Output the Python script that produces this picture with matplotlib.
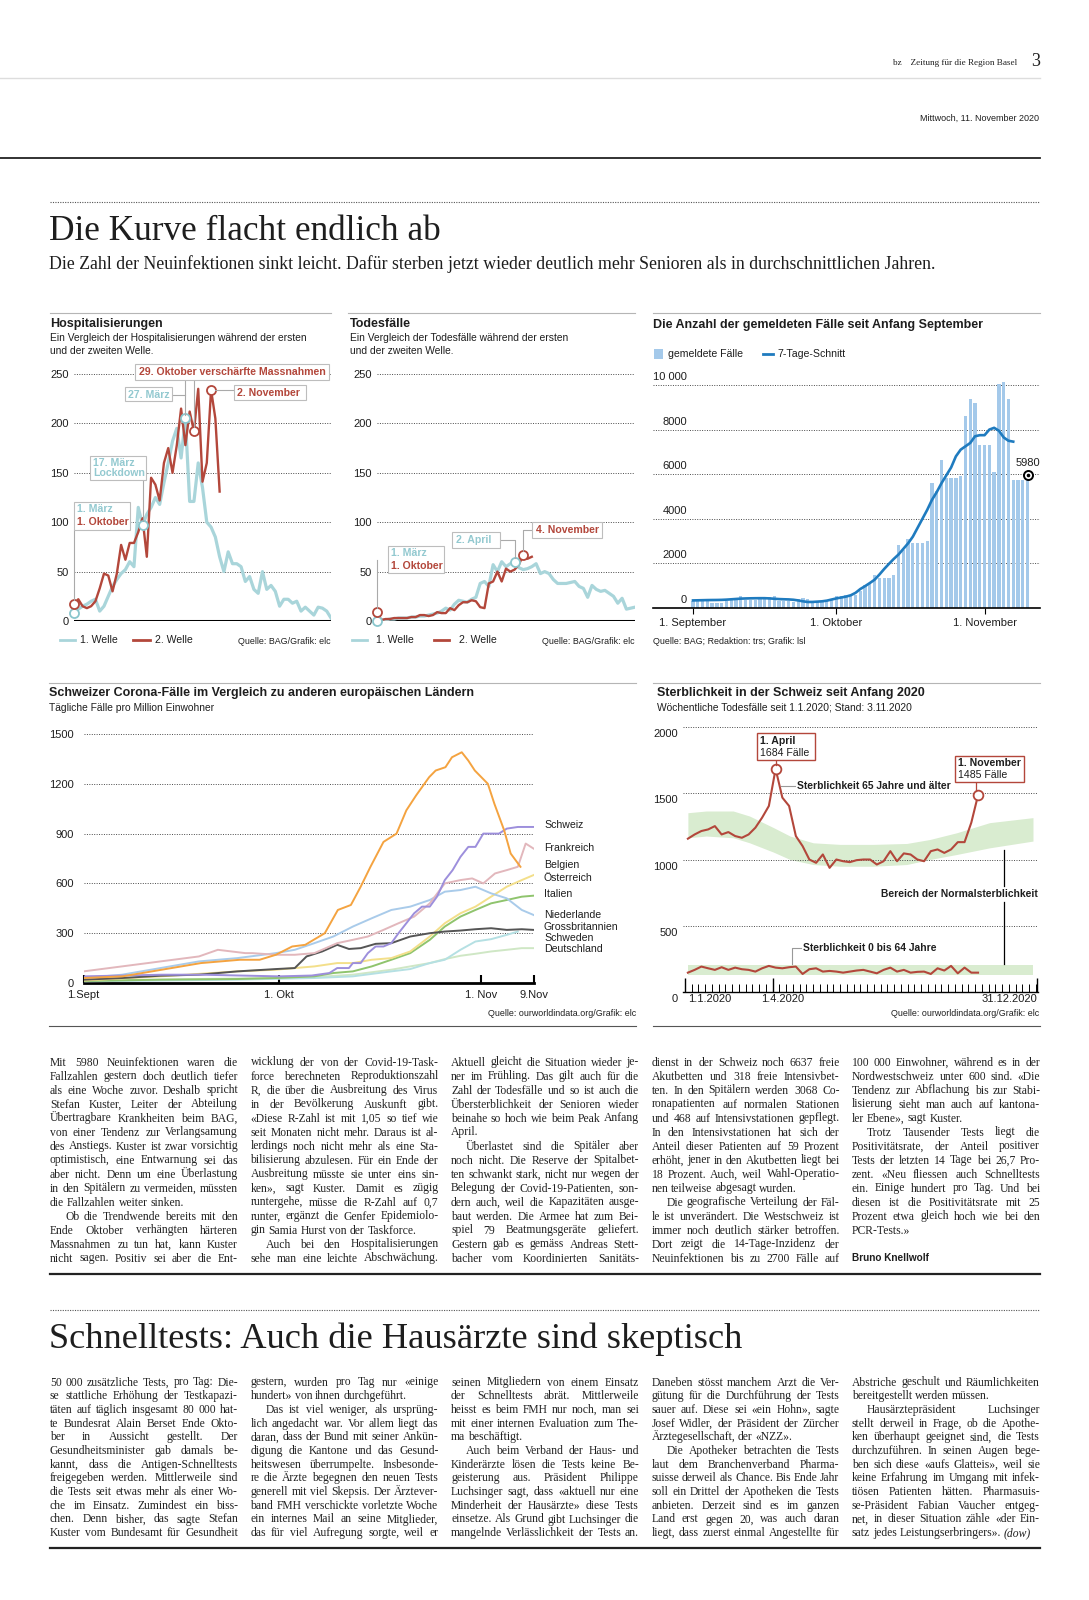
import matplotlib
matplotlib.use("Agg")
import matplotlib.pyplot as plt
from matplotlib.lines import Line2D
from matplotlib.patches import Rectangle
from matplotlib.font_manager import FontProperties

# ---------------------------------------------------------------- data
HOSP_TICKS = [0, 50, 100, 150, 200, 250]
HOSP_W1 = [8, 12, 15, 17, 20, 22, 10, 15, 25, 35, 42, 48, 52, 60, 55, 115, 97, 108, 115, 125,
           118, 140, 160, 182, 195, 165, 205, 121, 121, 160, 135, 100, 95, 85, 65, 50, 70, 58, 58, 55,
           40, 45, 32, 28, 50, 32, 36, 30, 15, 22, 22, 18, 20, 10, 14, 10, 6, 14, 13, 10, 3]
HOSP_W2 = [17, 22, 15, 13, 15, 20, 33, 48, 46, 30, 48, 77, 62, 79, 79, 90, 104, 65, 145, 138,
           122, 160, 175, 150, 178, 215, 178, 212, 192, 235, 141, 160, 234, 205, 131]
HOSP_MARK_W1 = [0, 16, 26]        # 1. März, 17. März, 27. März
HOSP_MARK_W2 = [0, 28, 32]        # 1. Oktober, 29. Oktober, 2. November

DEATH_W1 = [0, 1, 1, 2, 2, 3, 3, 3, 4, 4, 5, 5, 6, 7, 8, 10, 13, 11, 17, 21,
            20, 19, 22, 24, 38, 40, 35, 57, 50, 60, 55, 58, 60, 54, 52, 53, 55, 58, 48, 50,
            48, 42, 38, 38, 38, 39, 40, 35, 33, 24, 36, 32, 30, 31, 28, 25, 18, 23, 12, 13, 14]
DEATH_W2 = [9, 1, 2, 2, 3, 3, 3, 3, 4, 4, 6, 6, 5, 6, 9, 8, 8, 13, 11, 16,
            19, 19, 21, 20, 14, 13, 38, 40, 50, 40, 53, 50, 52, 57, 67, 63, 65]
DEATH_MARK_W1 = [0, 32]           # 1. März, 2. April
DEATH_MARK_W2 = [0, 34]           # 1. Oktober, 4. November

# reported cases, day 0 = 1 September
CASES = [330, 380, 405, 420, 230, 230, 230, 300, 400, 460, 530, 380, 380, 380, 390, 500, 480, 520, 330, 330,
         330, 290, 390, 440, 420, 280, 280, 280, 330, 420, 520, 560, 600, 600, 600, 750, 1050, 1120, 1490, 1340,
         1340, 1340, 1460, 2840, 2610, 3100, 2900, 2900, 2900, 3000, 5600, 5250, 6640, 5820, 5820, 5820, 5940,
         8610, 9360, 9180, 7310, 7310, 7310, 6120, 10040, 10120, 9370, 5750, 5750, 5750, 5980]
AVG7 = [340, 345, 350, 355, 358, 360, 365, 375, 390, 405, 420, 428, 434, 438, 440, 440, 430, 415, 400, 392,
        385, 370, 340, 300, 270, 272, 285, 300, 330, 380, 430, 470, 510, 570, 680, 850, 980, 1120, 1270, 1500,
        1750, 1980, 2200, 2400, 2650, 2900, 3200, 3600, 4000, 4400, 4850, 5200, 5600, 5950, 6300, 6800, 7100,
        7250, 7400, 7700, 7750, 7750, 8000, 8080, 7950, 7650, 7500, 7460]
CASE_TICKS = [0, 2000, 4000, 6000, 8000, 10000]
CASE_TICK_LABELS = ["0", "2000", "4000", "6000", "8000", "10 000"]
CASE_XTICKS = [0, 30, 61]
CASE_XLABELS = ["1. September", "1. Oktober", "1. November"]

# cases per million, day 0 = 1 September
BE_D = [0, 6, 12, 18, 24, 27, 29.5, 32, 34, 37, 39, 41, 42.5, 44, 46, 48, 49.5, 51, 53, 54, 55.5, 56.5, 58, 59,
        60, 62, 63, 64.5, 65.5, 67]
BE_V = [30, 40, 80, 120, 140, 140, 170, 220, 230, 300, 440, 470, 580, 700, 850, 900, 1040, 1130, 1240, 1280,
        1300, 1360, 1390, 1340, 1280, 1200, 1080, 920, 780, 700]
CH_D = [0, 6, 12, 18, 24, 30, 35, 37.7, 38.9, 40.7, 41.3, 42.5, 43.6, 44.8, 46, 47.2, 48.3, 49.5, 50.7, 51.9,
        53.1, 54.2, 55.4, 56.6, 57.8, 59, 60.1, 61.3, 62.5, 63.7, 64.9, 66.6, 69]
CH_V = [40, 45, 50, 50, 45, 40, 45, 60, 90, 90, 120, 120, 180, 220, 220, 240, 300, 360, 420, 460,
        460, 520, 620, 680, 760, 820, 820, 900, 900, 900, 930, 940, 940]
FR_D = [0, 5.9, 11.8, 17.7, 20.6, 24.8, 25.9, 29.5, 32.4, 35.4, 38.9, 41.3, 43.6, 46, 48.3, 50.7, 53.1, 55.4,
        57.8, 59.6, 61.3, 63.1, 64.9, 66.6, 67.8, 69]
FR_V = [70, 100, 130, 160, 200, 180, 180, 170, 170, 180, 240, 260, 280, 320, 360, 400, 480, 600,
        620, 630, 600, 660, 680, 700, 840, 810]
AT_D = [0, 11.8, 23.6, 29.5, 32.4, 35.4, 38.9, 41.3, 44.2, 47.2, 50.1, 53.1, 55.4, 57.8, 60.1, 62.5, 64.9, 67.2, 69]
AT_V = [15, 40, 70, 80, 90, 100, 120, 120, 140, 150, 190, 280, 360, 420, 460, 520, 580, 620, 650]
IT_D = [0, 11.8, 23.6, 29.5, 35.4, 38.3, 41.3, 44.2, 47.2, 50.1, 53.1, 55.4, 57.8, 60.1, 62.5, 64.9, 67.2, 69]
IT_V = [12, 20, 24, 30, 40, 60, 70, 100, 140, 180, 260, 340, 400, 440, 480, 500, 520, 526]
NL_D = [0, 5.9, 11.8, 17.7, 23.6, 29.5, 32.4, 35.4, 38.3, 41.3, 44.2, 47.2, 50.1, 53.1, 55.4, 57.8, 60.1, 62.5,
        64.9, 67.2, 69]
NL_V = [30, 50, 90, 130, 150, 180, 200, 240, 280, 340, 390, 440, 460, 500, 550, 560, 580, 540, 510, 440, 410]
GB_D = [0, 5.9, 11.8, 17.7, 23.6, 29.5, 32.4, 34.2, 36.6, 38.9, 40.7, 42.5, 44.8, 47.2, 50.1, 53.1, 55.4, 57.8,
        60.1, 62.5, 64.9, 67.2, 69]
GB_V = [20, 30, 44, 50, 70, 84, 90, 160, 190, 230, 205, 210, 236, 240, 280, 300, 310, 316, 324, 330, 320, 324, 320]
SE_D = [0, 23.6, 35.4, 41.3, 47.2, 50.1, 53.1, 55.4, 57.8, 60.1, 62.5, 64.9, 66.6]
SE_V = [10, 20, 30, 40, 70, 84, 120, 140, 200, 250, 264, 290, 310]
DE_D = [0, 17.7, 29.5, 35.4, 41.3, 47.2, 50.1, 53.1, 55.4, 57.8, 60.1, 62.5, 64.9, 67.2, 69]
DE_V = [14, 24, 30, 36, 50, 80, 100, 120, 144, 164, 176, 190, 200, 210, 210]
EU_TICKS = [0, 300, 600, 900, 1200, 1500]
EU_XTICKS = [0, 30, 61, 69]
EU_XLABELS = ["1.Sept", "1. Okt", "1. Nov", "9.Nov"]

# weekly deaths 2020
MORT_WEEKS = list(range(1, 45))
MORT65 = [1157, 1189, 1215, 1227, 1252, 1189, 1207, 1177, 1164, 1189, 1240, 1316, 1404, 1684, 1467, 1404,
          1177, 1101, 1000, 975, 1038, 937, 1000, 987, 980, 995, 1000, 1000, 962, 987, 1063, 987, 1046,
          1038, 1000, 987, 1063, 1076, 1050, 1076, 1131, 1131, 1278, 1485]
MORT064 = [146, 167, 192, 179, 167, 187, 167, 184, 172, 167, 154, 179, 197, 184, 179, 187, 192, 136, 172, 179,
           154, 159, 154, 146, 154, 162, 167, 154, 141, 167, 184, 154, 167, 146, 152, 154, 136, 179, 162, 197,
           141, 184, 146, 146]
BAND_DAYS = [3, 22, 50, 67, 92, 109, 133, 161, 195, 230, 254, 282, 316, 361]
BAND65_HI = [1353, 1366, 1366, 1328, 1240, 1177, 1126, 1114, 1114, 1121, 1151, 1202, 1278, 1316]
BAND65_LO = [1164, 1177, 1164, 1126, 1055, 1000, 962, 949, 949, 962, 1000, 1038, 1088, 1139]
BAND064_DAYS = [3, 361]
BAND064_HI = [205, 205]
BAND064_LO = [128, 128]
MORT_TICKS = [500, 1000, 1500, 2000]

# ---------------------------------------------------------------- text
ART1 = [
    ["Mit 5980 Neuinfektionen waren die",
     "Fallzahlen gestern doch deutlich tiefer",
     "als eine Woche zuvor. Deshalb spricht",
     "Stefan Kuster, Leiter der Abteilung",
     "Übertragbare Krankheiten beim BAG,",
     "von einer Tendenz zur Verlangsamung",
     "des Anstiegs. Kuster ist zwar vorsichtig",
     "optimistisch, eine Entwarnung sei das",
     "aber nicht. Denn um eine Überlastung",
     "in den Spitälern zu vermeiden, müssten",
     "die Fallzahlen weiter sinken."],
    ["Ob die Trendwende bereits mit den",
     "Ende Oktober verhängten härteren",
     "Massnahmen zu tun hat, kann Kuster",
     "nicht sagen. Positiv sei aber die Ent-",
     "wicklung der von der Covid-19-Task-",
     "force berechneten Reproduktionszahl",
     "R, die über die Ausbreitung des Virus",
     "in der Bevölkerung Auskunft gibt.",
     "«Diese R-Zahl ist mit 1,05 so tief wie",
     "seit Monaten nicht mehr. Daraus ist al-",
     "lerdings noch nicht mehr als eine Sta-",
     "bilisierung abzulesen. Für ein Ende der",
     "Ausbreitung müsste sie unter eins sin-",
     "ken», sagt Kuster. Damit es zügig",
     "runtergehe, müsse die R-Zahl auf 0,7",
     "runter, ergänzt die Genfer Epidemiolo-",
     "gin Samia Hurst von der Taskforce."],
    ["Auch bei den Hospitalisierungen",
     "sehe man eine leichte Abschwächung.",
     "Aktuell gleicht die Situation wieder je-",
     "ner im Frühling. Das gilt auch für die",
     "Zahl der Todesfälle und so ist auch die",
     "Übersterblichkeit der Senioren wieder",
     "beinahe so hoch wie beim Peak Anfang",
     "April."],
    ["Überlastet sind die Spitäler aber",
     "noch nicht. Die Reserve der Spitalbet-",
     "ten schwankt stark, nicht nur wegen der",
     "Belegung der Covid-19-Patienten, son-",
     "dern auch, weil die Kapazitäten ausge-",
     "baut werden. Die Armee hat zum Bei-",
     "spiel 79 Beatmungsgeräte geliefert.",
     "Gestern gab es gemäss Andreas Stett-",
     "bacher vom Koordinierten Sanitäts-",
     "dienst in der Schweiz noch 6637 freie",
     "Akutbetten und 318 freie Intensivbet-",
     "ten. In den Spitälern werden 3068 Co-",
     "ronapatienten auf normalen Stationen",
     "und 468 auf Intensivstationen gepflegt.",
     "In den Intensivstationen hat sich der",
     "Anteil dieser Patienten auf 59 Prozent",
     "erhöht, jener in den Akutbetten liegt bei",
     "18 Prozent. Auch, weil Wahl-Operatio-",
     "nen teilweise abgesagt wurden."],
    ["Die geografische Verteilung der Fäl-",
     "le ist unverändert. Die Westschweiz ist",
     "immer noch deutlich stärker betroffen.",
     "Dort zeigt die 14-Tage-Inzidenz der",
     "Neuinfektionen bis zu 2700 Fälle auf",
     "100 000 Einwohner, während es in der",
     "Nordwestschweiz unter 600 sind. «Die",
     "Tendenz zur Abflachung bis zur Stabi-",
     "lisierung sieht man auch auf kantona-",
     "ler Ebene», sagt Kuster."],
    ["Trotz Tausender Tests liegt die",
     "Positivitätsrate, der Anteil positiver",
     "Tests der letzten 14 Tage bei 26,7 Pro-",
     "zent. «Neu fliessen auch Schnelltests",
     "ein. Einige hundert pro Tag. Und bei",
     "diesen ist die Positivitätsrate mit 25",
     "Prozent etwa gleich hoch wie bei den",
     "PCR-Tests.»"],
]
ART2 = [
    ["50 000 zusätzliche Tests, pro Tag: Die-",
     "se stattliche Erhöhung der Testkapazi-",
     "täten auf täglich insgesamt 80 000 hat-",
     "te Bundesrat Alain Berset Ende Okto-",
     "ber in Aussicht gestellt. Der",
     "Gesundheitsminister gab damals be-",
     "kannt, dass die Antigen-Schnelltests",
     "freigegeben werden. Mittlerweile sind",
     "die Tests seit etwas mehr als einer Wo-",
     "che im Einsatz. Zumindest ein biss-",
     "chen. Denn bisher, das sagte Stefan",
     "Kuster vom Bundesamt für Gesundheit",
     "gestern, wurden pro Tag nur «einige",
     "hundert» von ihnen durchgeführt."],
    ["Das ist viel weniger, als ursprüng-",
     "lich angedacht war. Vor allem liegt das",
     "daran, dass der Bund mit seiner Ankün-",
     "digung die Kantone und das Gesund-",
     "heitswesen überrumpelte. Insbesonde-",
     "re die Ärzte begegnen den neuen Tests",
     "generell mit viel Skepsis. Der Ärztever-",
     "band FMH verschickte vorletzte Woche",
     "ein internes Mail an seine Mitglieder,",
     "das für viel Aufregung sorgte, weil er",
     "seinen Mitgliedern von einem Einsatz",
     "der Schnelltests abrät. Mittlerweile",
     "heisst es beim FMH nur noch, man sei",
     "mit einer internen Evaluation zum The-",
     "ma beschäftigt."],
    ["Auch beim Verband der Haus- und",
     "Kinderärzte lösen die Tests keine Be-",
     "geisterung aus. Präsident Philippe",
     "Luchsinger sagt, dass «aktuell nur eine",
     "Minderheit der Hausärzte» diese Tests",
     "einsetze. Als Grund gibt Luchsinger die",
     "mangelnde Verlässlichkeit der Tests an.",
     "Daneben stösst manchem Arzt die Ver-",
     "gütung für die Durchführung der Tests",
     "sauer auf. Diese sei «ein Hohn», sagte",
     "Josef Widler, der Präsident der Zürcher",
     "Ärztegesellschaft, der «NZZ»."],
    ["Die Apotheker betrachten die Tests",
     "laut dem Branchenverband Pharma-",
     "suisse derweil als Chance. Bis Ende Jahr",
     "soll ein Drittel der Apotheken die Tests",
     "anbieten. Derzeit sind es im ganzen",
     "Land erst gegen 20, was auch daran",
     "liegt, dass zuerst einmal Angestellte für",
     "Abstriche geschult und Räumlichkeiten",
     "bereitgestellt werden müssen."],
    ["Hausärztepräsident Luchsinger",
     "stellt derweil in Frage, ob die Apothe-",
     "ken überhaupt geeignet sind, die Tests",
     "durchzuführen. In seinen Augen bege-",
     "ben sich diese «aufs Glatteis», weil sie",
     "keine Erfahrung im Umgang mit infek-",
     "tiösen Patienten hätten. Pharmasuis-",
     "se-Präsident Fabian Vaucher entgeg-",
     "net, in dieser Situation zähle «der Ein-",
     "satz jedes Leistungserbringers». (dow)"],
]

# ---------------------------------------------------------------- setup
SANS = ['Liberation Sans', 'DejaVu Sans']
SERIF = ['Liberation Serif', 'DejaVu Serif']
plt.rcParams['font.family'] = SANS

W, H = 1089, 1600
fig = plt.figure(figsize=(W / 100, H / 100), dpi=100)
fig.patch.set_facecolor('white')
renderer = fig.canvas.get_renderer()

RED = '#b3473b'
TEAL = '#a9d5da'
TEAL_M = '#8ac6cd'
TEAL_TXT = '#93c9d0'
GRID = '#4a4a4a'
DOT = (0, (1, 1.5))
INK = '#1e1e1e'
TITLE_FS = 9.0
SUB_FS = 7.4
TICK_FS = 8.0
ANN_FS = 7.6


def fx(x):
    return x / W


def fy(y):
    return 1 - y / H


def T(x, y, s, size=7, weight='normal', color=INK, ha='left', va='center', family=SANS, z=8, **kw):
    return fig.text(fx(x), fy(y), s, fontsize=size, fontweight=weight, color=color, ha=ha, va=va,
                    family=family, zorder=z, **kw)


def L(xs, ys, color='#aaaaaa', lw=0.8, ls='-', z=6):
    fig.add_artist(Line2D([fx(v) for v in xs], [fy(v) for v in ys], color=color, lw=lw, ls=ls,
                          transform=fig.transFigure, zorder=z))


def BOX(x0, y0, x1, y1, ec='#bdbdbd', lw=0.8):
    fig.add_artist(Rectangle((fx(x0), fy(y1)), (x1 - x0) / W, (y1 - y0) / H, transform=fig.transFigure,
                             fc='white', ec=ec, lw=lw, zorder=7))


def AX(x0, y0, x1, y1):
    ax = fig.add_axes([fx(x0), fy(y1), (x1 - x0) / W, (y1 - y0) / H])
    ax.patch.set_alpha(0)
    for s in ax.spines.values():
        s.set_visible(False)
    return ax


def text_w(s, fp):
    w, h, d = renderer.get_text_width_height_descent(s, fp, ismath=False)
    return w


def fit_text(x, y, s, width, family, size0=20, **kw):
    fp = FontProperties(family=family, size=size0)
    w = text_w(s, fp)
    return T(x, y, s, size=size0 * width / w, family=family, **kw)


# ---------------------------------------------------------------- page header
T(1017, 63, 'bz    Zeitung für die Region Basel', size=6.6, family=SERIF, ha='right')
T(1040, 61, '3', size=13, family=SERIF, ha='right')
L([0, 1040], [78, 78], color='#dddddd', lw=1.0)
T(1039, 118, 'Mittwoch, 11. November 2020', size=6.5, ha='right')
L([0, 1040], [158, 158], color='#222222', lw=1.3)
L([50, 1040], [202, 202], color='#555555', lw=0.8, ls=(0, (1, 1.2)))
fit_text(49, 240, 'Die Kurve flacht endlich ab', 392, SERIF, va='baseline')
fit_text(49, 269, 'Die Zahl der Neuinfektionen sinkt leicht. Dafür sterben jetzt wieder deutlich mehr '
         'Senioren als in durchschnittlichen Jahren.', 882, SERIF, va='baseline')

# section rules
for xa, xb in [(50, 331), (348, 635), (653, 1040)]:
    L([xa, xb], [313, 313], color='#b5b5b5', lw=0.8)
for xa, xb in [(49, 636), (653, 1040)]:
    L([xa, xb], [683, 683], color='#b5b5b5', lw=0.8)
    L([xa, xb], [1026, 1026], color='#555555', lw=0.8)


def wave_axes(x0, x1, w1, w2, m1, m2):
    ax = AX(x0, 374, x1, 621)
    ax.set_xlim(0, 60)
    ax.set_ylim(0, 250)
    ax.set_yticks(HOSP_TICKS)
    ax.set_yticklabels([str(v) for v in HOSP_TICKS])
    ax.set_xticks([])
    ax.tick_params(axis='y', length=0, pad=4, labelsize=TICK_FS, labelcolor=INK)
    ax.grid(axis='y', color=GRID, lw=0.7, ls=DOT)
    ax.axhline(0, color='black', lw=2.2, zorder=2)
    ax.plot(range(len(w1)), w1, color=TEAL, lw=2.3, zorder=3, solid_joinstyle='round')
    ax.plot(range(len(w2)), w2, color=RED, lw=1.7, zorder=4, solid_joinstyle='round')
    ax.plot(m1, [w1[i] for i in m1], 'o', ms=6.5, mfc='white', mec=TEAL_M, mew=1.3, zorder=5, clip_on=False)
    ax.plot(m2, [w2[i] for i in m2], 'o', ms=6.5, mfc='white', mec=RED, mew=1.3, zorder=5, clip_on=False)
    return ax


# ---------------------------------------------------------------- Hospitalisierungen
T(50, 324, 'Hospitalisierungen', size=TITLE_FS, weight='bold')
T(50, 338, 'Ein Vergleich der Hospitalisierungen während der ersten', size=SUB_FS)
T(50, 351, 'und der zweiten Welle.', size=SUB_FS)
wave_axes(74, 331, HOSP_W1, HOSP_W2, HOSP_MARK_W1, HOSP_MARK_W2)

BOX(135, 364, 329, 380)
T(139, 372, '29. Oktober verschärfte Massnahmen', size=ANN_FS, weight='bold', color=RED)
L([194, 194], [380, 427])
BOX(125, 387, 172, 401)
T(128, 394.5, '27. März', size=ANN_FS, weight='bold', color=TEAL_TXT)
L([185.4, 185.4], [380, 415])
L([172, 185.4], [394.5, 394.5])
BOX(234, 385, 306, 400)
T(237, 392.5, '2. November', size=ANN_FS, weight='bold', color=RED)
L([215, 234], [390, 390])
BOX(90, 456, 146, 480)
T(93, 462.5, '17. März', size=ANN_FS, weight='bold', color=TEAL_TXT)
T(93, 473.5, 'Lockdown', size=ANN_FS, weight='bold', color=TEAL_TXT)
L([142.5, 142.5], [480, 521])
BOX(74, 502, 130, 530)
T(77, 509.5, '1. März', size=ANN_FS, weight='bold', color=TEAL_TXT)
T(77, 522, '1. Oktober', size=ANN_FS, weight='bold', color=RED)
L([74, 74], [530, 600])

L([60, 75], [640, 640], color=TEAL, lw=2.0)
T(80, 640, '1. Welle', size=7.6)
L([133, 150], [640, 640], color=RED, lw=2.0)
T(155, 640, '2. Welle', size=7.6)
T(331, 641, 'Quelle: BAG/Grafik: elc', size=6.4, ha='right')

# ---------------------------------------------------------------- Todesfälle
T(350, 324, 'Todesfälle', size=TITLE_FS, weight='bold')
T(350, 338, 'Ein Vergleich der Todesfälle während der ersten', size=SUB_FS)
T(350, 351, 'und der zweiten Welle.', size=SUB_FS)
wave_axes(377, 635, DEATH_W1, DEATH_W2, DEATH_MARK_W1, DEATH_MARK_W2)

BOX(388, 546, 444, 573)
T(391, 553, '1. März', size=ANN_FS, weight='bold', color=TEAL_TXT)
T(391, 566, '1. Oktober', size=ANN_FS, weight='bold', color=RED)
L([377, 377], [560, 608])
BOX(452, 532, 500, 548)
T(456, 540, '2. April', size=ANN_FS, weight='bold', color=TEAL_TXT)
L([500, 514.6, 514.6], [540, 540, 558])
BOX(532, 522, 602, 538)
T(536, 530, '4. November', size=ANN_FS, weight='bold', color=RED)
L([523.2, 523.2, 532], [551, 530, 530])

L([352, 367], [640, 640], color=TEAL, lw=2.0)
T(376, 640, '1. Welle', size=7.6)
L([434, 449], [640, 640], color=RED, lw=2.0)
T(459, 640, '2. Welle', size=7.6)
T(635, 641, 'Quelle: BAG/Grafik: elc', size=6.4, ha='right')

# ---------------------------------------------------------------- gemeldete Fälle
T(653, 325, 'Die Anzahl der gemeldeten Fälle seit Anfang September', size=TITLE_FS, weight='bold')
fig.add_artist(Rectangle((fx(654), fy(359)), 9 / W, 10 / H, transform=fig.transFigure,
                         fc='#a4c9ea', ec='none'))
T(668, 354, 'gemeldete Fälle', size=7.6)
L([763, 773], [354, 354], color='#1f7bbf', lw=2.0)
T(777, 354, '7-Tage-Schnitt', size=7.6)

axc = AX(653, 385, 1040, 608)
axc.set_xlim(-8.37, 72.6)
axc.set_ylim(0, 10000)
axc.bar(range(len(CASES)), CASES, width=0.68, color='#a4c9ea', zorder=2, clip_on=False)
axc.plot(range(len(AVG7)), AVG7, color='#1f7bbf', lw=1.9, zorder=4)
axc.set_yticks(CASE_TICKS)
axc.set_yticklabels([])
axc.tick_params(axis='y', length=0)
axc.grid(axis='y', color=GRID, lw=0.7, ls=DOT, zorder=1)
axc.set_axisbelow(True)
for v, lab in zip(CASE_TICKS, CASE_TICK_LABELS):
    axc.annotate(lab, xy=(0.088, v), xycoords=('axes fraction', 'data'), xytext=(0, 3),
                 textcoords='offset pixels', ha='right', va='bottom', fontsize=TICK_FS, color=INK)
axc.spines['bottom'].set_visible(True)
axc.spines['bottom'].set_linewidth(1.2)
axc.set_xticks(CASE_XTICKS)
axc.set_xticklabels(CASE_XLABELS)
axc.tick_params(axis='x', length=4, width=0.8, pad=3, labelsize=TICK_FS, labelcolor=INK)
last = len(CASES) - 1
axc.plot([last], [CASES[last]], 'o', ms=6.5, mfc='white', mec='black', mew=1.4, zorder=6, clip_on=False)
axc.plot([last], [CASES[last]], 'o', ms=1.6, color='black', zorder=7, clip_on=False)
axc.annotate(str(CASES[last]), xy=(last, CASES[last]), xytext=(0, 7), textcoords='offset pixels',
             ha='center', va='bottom', fontsize=TICK_FS, color=INK)
T(653, 642, 'Quelle: BAG; Redaktion: trs; Grafik: lsl', size=6.4)

# ---------------------------------------------------------------- Europa
T(49, 693, 'Schweizer Corona-Fälle im Vergleich zu anderen europäischen Ländern', size=TITLE_FS,
  weight='bold')
T(49, 708, 'Tägliche Fälle pro Million Einwohner', size=SUB_FS)
axe = AX(83.5, 734, 533.5, 983)
axe.set_xlim(0, 69)
axe.set_ylim(0, 1500)
axe.set_yticks(EU_TICKS)
axe.set_yticklabels([str(v) for v in EU_TICKS])
axe.tick_params(axis='y', length=0, pad=6.8, labelsize=TICK_FS, labelcolor=INK)
axe.grid(axis='y', color=GRID, lw=0.7, ls=DOT)
axe.spines['bottom'].set_visible(True)
axe.spines['bottom'].set_linewidth(2.0)
axe.set_xticks(EU_XTICKS)
axe.set_xticklabels(EU_XLABELS)
axe.tick_params(axis='x', direction='in', length=6, width=1.5, pad=5, labelsize=TICK_FS, labelcolor=INK)
EU_SERIES = [
    (DE_D, DE_V, '#cfe7c5', 'Deutschland', 949),
    (SE_D, SE_V, '#b5e0e3', 'Schweden', 938),
    (IT_D, IT_V, '#8fc46d', 'Italien', 894),
    (AT_D, AT_V, '#f3df8a', 'Österreich', 878),
    (NL_D, NL_V, '#a9cbea', 'Niederlande', 915),
    (GB_D, GB_V, '#555555', 'Grossbritannien', 927),
    (FR_D, FR_V, '#e2b7bc', 'Frankreich', 848),
    (CH_D, CH_V, '#9d8fdc', 'Schweiz', 825),
    (BE_D, BE_V, '#f4a340', 'Belgien', 865),
]
for i, (d, v, c, name, ly) in enumerate(EU_SERIES):
    axe.plot(d, v, color=c, lw=1.4, zorder=3 + i, solid_joinstyle='round')
    T(544, ly, name, size=7.6)
T(636, 1013, 'Quelle: ourworldindata.org/Grafik: elc', size=6.4, ha='right')

# ---------------------------------------------------------------- Sterblichkeit
T(657, 693, 'Sterblichkeit in der Schweiz seit Anfang 2020', size=TITLE_FS, weight='bold')
T(657, 707, 'Wöchentliche Todesfälle seit 1.1.2020; Stand: 3.11.2020', size=SUB_FS)
axm = AX(683, 727, 1038, 992)
axm.set_xlim(-2.07, 366.2)
axm.set_ylim(0, 2000)
axm.set_yticks(MORT_TICKS)
axm.set_yticklabels([])
axm.tick_params(axis='y', length=0)
axm.grid(axis='y', color=GRID, lw=0.7, ls=DOT, zorder=0)
for v in [0] + MORT_TICKS:
    axm.annotate(str(v), xy=(0, v), xycoords=('axes fraction', 'data'), xytext=(-5, -7),
                 textcoords='offset pixels', ha='right', va='center', fontsize=TICK_FS, color=INK)
mort_days = [(w - 1) * 7 + 3 for w in MORT_WEEKS]
axm.fill_between(BAND_DAYS, BAND65_LO, BAND65_HI, color='#d9ecd0', lw=0, zorder=1)
axm.fill_between(BAND064_DAYS, BAND064_LO, BAND064_HI, color='#d9ecd0', lw=0, zorder=1)
axm.plot(mort_days, MORT65, color=RED, lw=1.5, zorder=3)
axm.plot(mort_days, MORT064, color=RED, lw=1.5, zorder=3)
pk = MORT65.index(max(MORT65))
axm.plot([mort_days[pk], mort_days[-1]], [MORT65[pk], MORT65[-1]], 'o', ms=7, mfc='white', mec=RED,
         mew=1.3, zorder=5, clip_on=False)
axm.spines['bottom'].set_visible(True)
axm.spines['bottom'].set_linewidth(1.0)
axm.set_xticks([0, 91, 365])
axm.set_xticklabels([])
axm.set_xticks(list(range(0, 365, 7)), minor=True)
axm.tick_params(axis='x', which='major', direction='in', length=10, width=1.0)
axm.tick_params(axis='x', which='minor', direction='in', length=6, width=0.7)
axm.annotate('1.1.2020', xy=(0, 0), xytext=(3, -7), textcoords='offset pixels', ha='left', va='center',
             fontsize=TICK_FS, color=INK, annotation_clip=False)
axm.annotate('1.4.2020', xy=(91, 0), xytext=(10, -7), textcoords='offset pixels', ha='center', va='center',
             fontsize=TICK_FS, color=INK, annotation_clip=False)
axm.annotate('31.12.2020', xy=(365, 0), xytext=(0, -7), textcoords='offset pixels', ha='right', va='center',
             fontsize=TICK_FS, color=INK, annotation_clip=False)

BOX(757, 733, 815, 760, ec=RED, lw=1.0)
T(760, 740.5, '1. April', size=ANN_FS, weight='bold')
T(760, 752.5, f'{MORT65[pk]} Fälle', size=ANN_FS)
L([775.6, 775.6], [760, 765], color=RED, lw=0.9)
BOX(955, 756, 1024, 782, ec=RED, lw=1.0)
T(958, 763, '1. November', size=ANN_FS, weight='bold')
T(958, 775, f'{MORT65[-1]} Fälle', size=ANN_FS)
L([976, 976], [782, 791], color=RED, lw=0.9)
L([781, 795], [786, 786], color='#999999', lw=0.8)
T(797, 786, 'Sterblichkeit 65 Jahre und älter', size=7.4, weight='bold')
T(1038, 894, 'Bereich der Normalsterblichkeit', size=7.4, weight='bold', ha='right')
L([1004, 1004], [850, 886], color='black', lw=0.9)
L([1004, 1004], [902, 964], color='black', lw=0.9)
L([792, 792, 801], [964, 948, 948], color='#999999', lw=0.8)
T(803, 948, 'Sterblichkeit 0 bis 64 Jahre', size=7.4, weight='bold')
T(1039, 1013, 'Quelle: ourworldindata.org/Grafik: elc', size=6.4, ha='right')

# ---------------------------------------------------------------- article text
COL_X = [50, 250.5, 451, 651.5, 852]
COL_W = 188
INDENT = 15


def draw_article(paras, y0, dy, rows, fs):
    fp = FontProperties(family=SERIF, size=fs)
    sp = text_w('a a', fp) - text_w('aa', fp)
    lines = []
    for pi, para in enumerate(paras):
        for li, ln in enumerate(para):
            lines.append((ln, li == 0 and pi > 0, li == len(para) - 1))
    for i, (ln, first, lastline) in enumerate(lines):
        c, r = divmod(i, rows)
        ind = INDENT if first else 0
        x0 = COL_X[c] + ind
        avail = COL_W - ind
        yb = y0 + r * dy
        words = ln.split(' ')
        size = fs
        fpl = fp
        widths = [text_w(w, fpl) for w in words]
        nat = sum(widths) + 0.7 * sp * (len(words) - 1)
        if nat > avail:
            size = fs * avail / nat
            fpl = FontProperties(family=SERIF, size=size)
            widths = [text_w(w, fpl) for w in words]
        if not lastline and len(words) > 1:
            gap = (avail - sum(widths)) / (len(words) - 1)
        else:
            gap = sp * size / fs
        x = x0
        for w, wd in zip(words, widths):
            style = 'italic' if (w.startswith('(') and w.endswith(')')) else 'normal'
            T(x, yb, w, size=size, family=SERIF, va='baseline', color='#222222', style=style)
            x += wd + gap


draw_article(ART1, 1065.5, 14.0, 15, 8.4)
T(COL_X[4], 1258, 'Bruno Knellwolf', size=7.2, weight='bold')
L([50, 1040], [1274, 1274], color='#222222', lw=1.6)

L([50, 1040], [1310, 1310], color='#555555', lw=0.8, ls=(0, (1, 1.2)))
fit_text(49, 1348, 'Schnelltests: Auch die Hausärzte sind skeptisch', 691, SERIF, va='baseline')
draw_article(ART2, 1385.5, 13.7, 12, 8.4)
L([50, 1040], [1548, 1548], color='#222222', lw=1.6)

fig.savefig('out.png', dpi=100, facecolor='white')
